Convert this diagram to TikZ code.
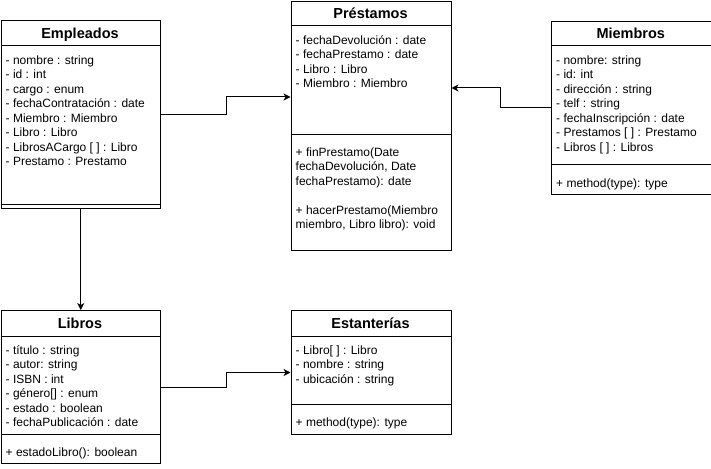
\documentclass[tikz,border=0pt]{standalone}
\usepackage{fontspec}
\setmainfont{Liberation Sans}
\usetikzlibrary{arrows.meta,calc}
\tikzset{
  classbox/.style={draw, line width=1pt, anchor=north west, inner sep=0pt, minimum width=#1},
  ttl/.style={font=\fontsize{14.5}{16}\selectfont\bfseries, anchor=base, inner sep=0pt},
  attr/.style={font=\fontsize{12}{14}\selectfont, anchor=base west, inner sep=0pt},
  sep/.style={line width=1pt},
  conn/.style={line width=1pt, -{Stealth[length=7pt,width=7pt,inset=2pt]}},
}
\newcommand\umltext[4]{% x, first baseline y, step, list
  \foreach \t [count=\i from 0] in {#4}{
    \node[attr] at (#1, #2+\i*#3) {\t};
  }%
}
\begin{document}
\begin{tikzpicture}[x=1pt,y=-1pt]
\useasboundingbox (0,0) rectangle (711,468);
% Empleados
\node[classbox=159.5pt, minimum height=188pt] (emp) at (0.5,20) {};
\draw[sep] (0.5,46) -- (160,46);
\draw[sep] (0.5,204) -- (160,204);
\node[ttl] (empT) at (80,38.2) {Empleados};
\umltext{5.5}{64.3}{14.5}{- nombre : string,- id : int,- cargo : enum,- fechaContratación : date,- Miembro : Miembro,- Libro : Libro,- LibrosACargo [ ] : Libro,- Prestamo : Prestamo}
% Prestamos
\node[classbox=160pt, minimum height=248.5pt] (pre) at (290.5,1) {};
\draw[sep] (290.5,26) -- (450.5,26);
\draw[sep] (290.5,134) -- (450.5,134);
\node[ttl] (preT) at (370.5,18.5) {Préstamos};
\umltext{295.5}{44.3}{14.5}{- fechaDevolución : date,- fechaPrestamo : date,- Libro : Libro,- Miembro : Miembro}
\umltext{295.5}{156}{14.5}{+ finPrestamo(Date,{fechaDevolución, Date},fechaPrestamo): date,{},+ hacerPrestamo(Miembro,{miembro, Libro libro): void}}
% Miembros
\node[classbox=159.5pt, minimum height=173pt] (mie) at (551,21) {};
\draw[sep] (551,46) -- (710.5,46);
\draw[sep] (551,164) -- (710.5,164);
\node[ttl] (mieT) at (630.75,39) {Miembros};
\umltext{556}{64.3}{14.5}{- nombre: string,- id: int,- dirección : string,- telf : string,- fechaInscripción : date,- Prestamos [ ] : Prestamo,- Libros [ ] : Libros}
\umltext{556}{187}{14.5}{+ method(type): type}
% Libros
\node[classbox=159.5pt, minimum height=153pt] (lib) at (0.5,310) {};
\draw[sep] (0.5,336) -- (160,336);
\draw[sep] (0.5,434) -- (160,434);
\node[ttl] (libT) at (80,328.2) {Libros};
\umltext{5.5}{354.3}{14.5}{- título : string,- autor: string,- ISBN : int,- género[] : enum,- estado : boolean,- fechaPublicación : date}
\umltext{5.5}{456.3}{14.5}{+ estadoLibro(): boolean}
% Estanterias
\node[classbox=160pt, minimum height=124pt] (est) at (290.5,310) {};
\draw[sep] (290.5,336) -- (450.5,336);
\draw[sep] (290.5,404) -- (450.5,404);
\node[ttl] (estT) at (370.5,328.2) {Estanterías};
\umltext{295.5}{354.3}{14.5}{- Libro[ ] : Libro,- nombre : string,- ubicación : string}
\umltext{295.5}{426.3}{14.5}{+ method(type): type}
% connectors
\coordinate (preIn) at ($(pre.north west)+(0,96)$);
\coordinate (preIn2) at ($(pre.north east)+(0,87)$);
\draw[conn] (emp.east) -- ++(65.5,0) |- (preIn);
\draw[conn] (mie.west) -- ++(-51,0) |- (preIn2);
\draw[conn] (emp.south) -- (lib.north);
\draw[conn] (lib.east) -- ++(65.5,0) |- (est.west);
\end{tikzpicture}
\end{document}
